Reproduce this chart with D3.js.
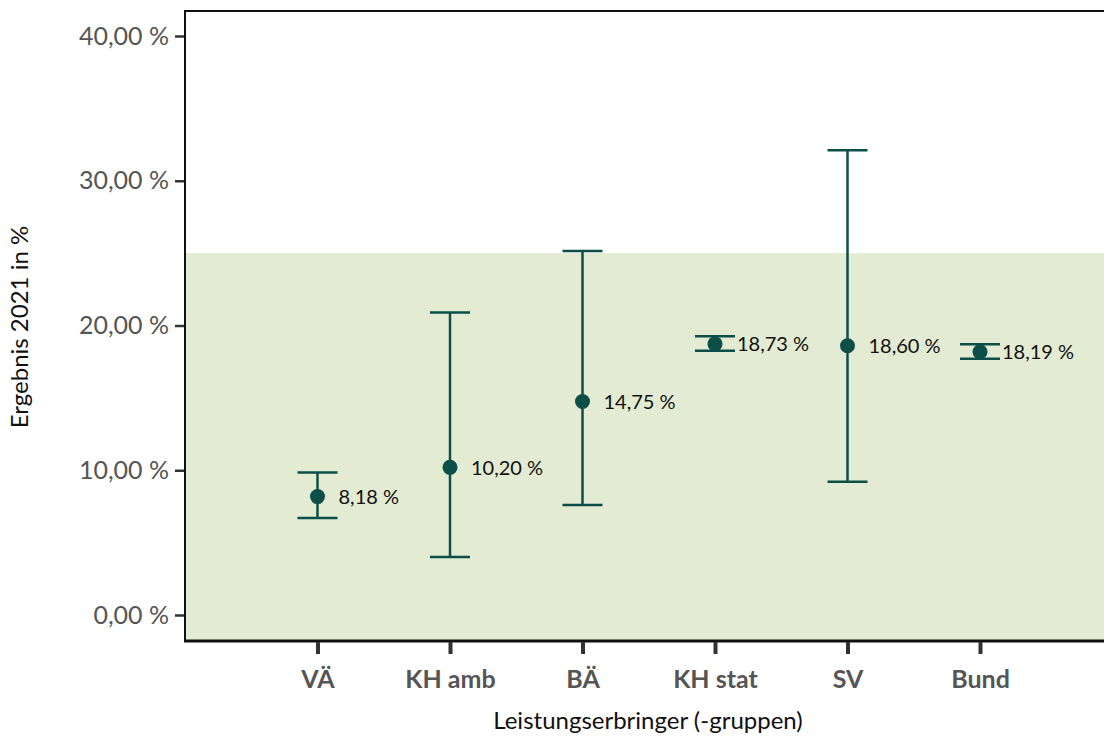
<!DOCTYPE html>
<html><head><meta charset="utf-8">
<script src="https://cdn.jsdelivr.net/npm/d3@7"></script>
<style>body{margin:0;background:#fff}svg{display:block}</style>
</head><body><svg id="c" width="1104" height="738"></svg>
<script>
const categories = ["VÄ","KH amb","BÄ","KH stat","SV","Bund"];
const values = [8.18, 10.20, 14.75, 18.73, 18.60, 18.19];
const lower = [6.7, 4.0, 7.6, 18.25, 9.2, 17.7];
const upper = [9.85, 20.9, 25.15, 19.25, 32.1, 18.7];
const yTicks = [0, 10, 20, 30, 40];
const bandMax = 25;

const svg = d3.select("#c");
const W = 1104, H = 738;
const left = 185, plotTop = 11, plotBottom = 641;
const y = d3.scaleLinear().domain([0, 40]).range([615, 36]);
const x = d3.scalePoint().domain(categories).range([left, left + 132.5 * 7]).padding(1);
const teal = "#0b4f48";
const font = "Lato, 'Open Sans', sans-serif";
const fmt = v => d3.format(".2f")(v).replace(".", ",") + " %";

// band
svg.append("rect").attr("x", left).attr("width", W - left)
  .attr("y", y(bandMax)).attr("height", plotBottom - y(bandMax)).attr("fill", "#e3ebd2");

// frame
svg.append("line").attr("x1", left).attr("x2", W).attr("y1", plotTop).attr("y2", plotTop)
  .attr("stroke", "#111").attr("stroke-width", 2);
svg.append("line").attr("x1", left).attr("x2", left).attr("y1", plotTop - 1).attr("y2", plotBottom + 1)
  .attr("stroke", "#111").attr("stroke-width", 2);
svg.append("line").attr("x1", left - 1).attr("x2", W).attr("y1", plotBottom).attr("y2", plotBottom)
  .attr("stroke", "#111").attr("stroke-width", 3);

// y axis
const yAxis = d3.axisLeft(y).tickValues(yTicks).tickSize(9).tickPadding(6).tickFormat(fmt);
const gy = svg.append("g").attr("transform", `translate(${left - 1},0)`).call(yAxis);
gy.select(".domain").remove();
gy.selectAll(".tick line").attr("stroke", "#333").attr("stroke-width", 2.5);
gy.selectAll(".tick text").attr("fill", "#555").style("font-family", font).style("font-size", "25px");

// x axis
const xAxis = d3.axisBottom(x).tickSize(12).tickPadding(16);
const gx = svg.append("g").attr("transform", `translate(0,${plotBottom + 1})`).call(xAxis);
gx.select(".domain").remove();
gx.selectAll(".tick line").attr("stroke", "#333").attr("stroke-width", 4);
gx.selectAll(".tick text").attr("fill", "#555").style("font-family", font)
  .style("font-size", "25px").style("font-weight", "bold");

// axis titles
svg.append("text").attr("x", 648).attr("y", 729).attr("text-anchor", "middle")
  .style("font-family", font).style("font-size", "24px").attr("fill", "#111")
  .text("Leistungserbringer (-gruppen)");
svg.append("text").attr("transform", "translate(28,327) rotate(-90)").attr("text-anchor", "middle")
  .style("font-family", font).style("font-size", "24px").attr("fill", "#111")
  .text("Ergebnis 2021 in %");

// error bars
const g = svg.append("g");
categories.forEach((c, i) => {
  const cx = x(c);
  g.append("line").attr("x1", cx).attr("x2", cx).attr("y1", y(lower[i])).attr("y2", y(upper[i]))
    .attr("stroke", teal).attr("stroke-width", 2.5);
  [lower[i], upper[i]].forEach(v => {
    g.append("line").attr("x1", cx - 20).attr("x2", cx + 20).attr("y1", y(v)).attr("y2", y(v))
      .attr("stroke", teal).attr("stroke-width", 2.5);
  });
  g.append("circle").attr("cx", cx).attr("cy", y(values[i])).attr("r", 7.5).attr("fill", teal);
  const narrow = (upper[i] - lower[i]) < 2;
  g.append("text").attr("x", cx + (narrow ? 22 : 21)).attr("y", y(values[i]) + 7.5)
    .style("font-family", font).style("font-size", "20px").attr("fill", "#111")
    .text(fmt(values[i]));
});
</script></body></html>
